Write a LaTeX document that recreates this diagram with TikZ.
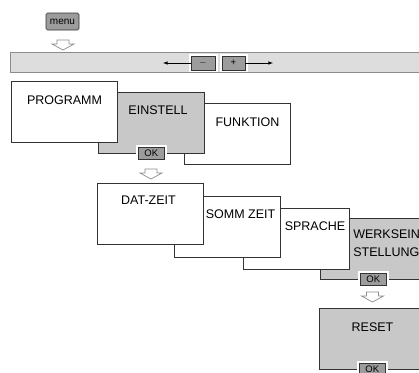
\documentclass[tikz,border=0pt]{standalone}
\usepackage{fontspec}
\setmainfont{Liberation Sans}
\usetikzlibrary{arrows,positioning}
\definecolor{bargray}{HTML}{DDDDDD}
\definecolor{boxgray}{HTML}{C8C8C8}
\definecolor{btngray}{HTML}{9C9C9C}
\definecolor{rimgray}{HTML}{8C8C8C}
\begin{document}
\begin{tikzpicture}[x=1pt,y=-1pt,>=latex,line width=0.6pt,
    panel/.style={draw=black!80,fill=white,anchor=north west,inner sep=0pt,
                  minimum width=106pt,minimum height=61pt},
    greyfill/.style={fill=boxgray},
    halo/.style={fill=white,inner sep=0pt,minimum width=31pt,minimum height=17pt},
    btn/.style={draw=black!80,fill=btngray,inner sep=0pt,minimum width=26pt,
                minimum height=12pt,font=\fontsize{9.5}{10}\selectfont},
    txt/.style={inner sep=0pt,font=\fontsize{12.5}{18}\selectfont},
    hollowdown/.pic={\draw[draw=rimgray,fill=white,line width=0.7pt]
        (-6,0) -- (6,0) -- (6,4) -- (11,4) -- (0,10) -- (-11,4) -- (-6,4) -- cycle;}]

        \useasboundingbox (0,0) rectangle (419,372);

        \node[panel,draw=rimgray,fill=bargray,minimum width=420pt,minimum height=20pt] (Bar) at (10,52) {};
        \node[btn,minimum width=33pt,minimum height=17pt,rounded corners=1.5pt,
              font=\fontsize{10}{10}\selectfont]      (Menu)  at (62.5,21.5) {menu};
        \pic at (63,40) {hollowdown};
        \node[halo,minimum width=29pt,minimum height=18pt] (MinusH) at (203,63)   {};
        \node[halo,minimum width=28pt,minimum height=18pt] (PlusH)  at (233.5,63) {};
        \node[btn,minimum width=24pt,minimum height=14pt] (Minus) at (203,63)   {$-$};
        \node[btn,minimum width=23pt,minimum height=14pt] (Plus)  at (233.5,63) {+};
        \coordinate (Left)  at (163,63);
        \coordinate (Right) at (273,63);
        \draw[->] (Minus) -- (Left);
        \draw[->] (Plus)  -- (Right);

        \node[panel]          (Funk)  at (184,103) {};
        \node[panel,greyfill] (Einst) at (98,92)   {};
        \node[panel]          (Prog)  at (11,81)   {};
        \node[halo]           (OK01H) at (Einst.south) {};
        \node[btn]            (OK01)  at (Einst.south) {OK};
        \pic at (151,169) {hollowdown};

        \node[panel,greyfill] (Werk)  at (320,218) {};
        \node[panel]          (Spr)   at (243,208) {};
        \node[panel]          (Somm)  at (174,196) {};
        \node[panel]          (Dat)   at (97,183)  {};
        \node[halo]           (OK02H) at (Werk.south) {};
        \node[btn]            (OK02)  at (Werk.south) {OK};
        \pic at (372.5,292) {hollowdown};

        \node[panel,greyfill] (Reset) at (319,308) {};
        \node[halo]           (OK03H) at (Reset.south) {};
        \node[btn]            (OK03)  at (Reset.south) {OK};

        \node[txt,anchor=base] (ProgT)  at (64.5,104)  {PROGRAMM};
        \node[txt,anchor=base] (EinstT) at (158,114)   {EINSTELL};
        \node[txt,anchor=base] (FunkT)  at (247.5,126) {FUNKTION};
        \node[txt,anchor=base] (DatT)   at (148.5,204) {DAT-ZEIT};
        \node[txt,anchor=base] (SommT)  at (240.5,218) {SOMM ZEIT};
        \node[txt,anchor=base] (SprT)   at (315,230)   {SPRACHE};
        \node[txt,anchor=west,align=left] (WerkT) at (353,243.5) {WERKSEIN\\STELLUNG};
        \node[txt,anchor=base] (ResetT) at (372.5,331.5) {RESET};
      \end{tikzpicture}
\end{document}
